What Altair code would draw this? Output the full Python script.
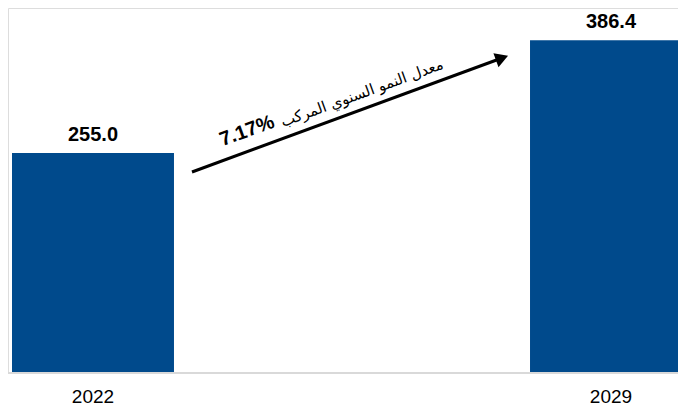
import altair as alt
import pandas as pd

years = ["2022", "2029"]
values = [255.0, 386.4]
cagr_value = "7.17%"
cagr_text = "معدل النمو السنوي المركب"

BAR_COLOR = "#004a8c"
W, H = 670, 364

df = pd.DataFrame({"year": years, "value": values})

x_enc = alt.X(
    "year:N",
    sort=years,
    scale=alt.Scale(range=[4, 684], paddingInner=0.6873, paddingOuter=0),
    axis=alt.Axis(
        title=None, ticks=False, domain=False, labelAngle=0,
        labelFontSize=19, labelFont="Liberation Sans", labelColor="#000000",
        labelPadding=15,
    ),
)
y_enc = alt.Y("value:Q", scale=alt.Scale(domain=[0, 424]), axis=None)

base = alt.Chart(df)

baseline = alt.Chart(pd.DataFrame({"z": [0]})).mark_rule(
    color="#d9d9d9", strokeWidth=2, yOffset=1
).encode(x=alt.value(-10), x2=alt.value(W + 10), y=alt.Y("z:Q", scale=alt.Scale(domain=[0, 424]), axis=None))

bars = base.mark_bar(color=BAR_COLOR).encode(x=x_enc, y=y_enc)

labels = base.mark_text(
    baseline="alphabetic", dy=-12, fontSize=20, fontWeight="bold",
    font="Liberation Sans", color="#000000",
).encode(x=x_enc, y=y_enc, text=alt.Text("value:Q", format=".1f"))

one = pd.DataFrame({"a": [0]})

arrow_line = alt.Chart(one).mark_rule(color="#000000", strokeWidth=3).encode(
    x=alt.value(184), y=alt.value(164), x2=alt.value(494), y2=alt.value(50)
)
arrow_head = alt.Chart(one).mark_point(
    shape="triangle-up", filled=True, color="#000000", opacity=1, size=220, angle=70
).encode(x=alt.value(494), y=alt.value(50))

t_value = alt.Chart(pd.DataFrame({"t": [cagr_value]})).mark_text(
    angle=340, fontSize=20, fontWeight="bold", font="Liberation Sans",
    color="#000000", align="center", baseline="middle",
).encode(x=alt.value(239), y=alt.value(123), text="t:N")

t_label = alt.Chart(pd.DataFrame({"t": [cagr_text]})).mark_text(
    angle=340, fontSize=15, font="DejaVu Sans",
    color="#000000", align="center", baseline="middle",
).encode(x=alt.value(354), y=alt.value(85), text="t:N")

chart = alt.layer(baseline, bars, labels, arrow_line, arrow_head, t_value, t_label).properties(
    width=W, height=H,
    autosize=alt.AutoSizeParams(type="none"),
    padding={"left": 0, "top": 0, "right": 0, "bottom": 36},
).configure_view(stroke=None).configure(background="#ffffff")

chart.save("out.html", embed_options={"renderer": "svg", "actions": False})
